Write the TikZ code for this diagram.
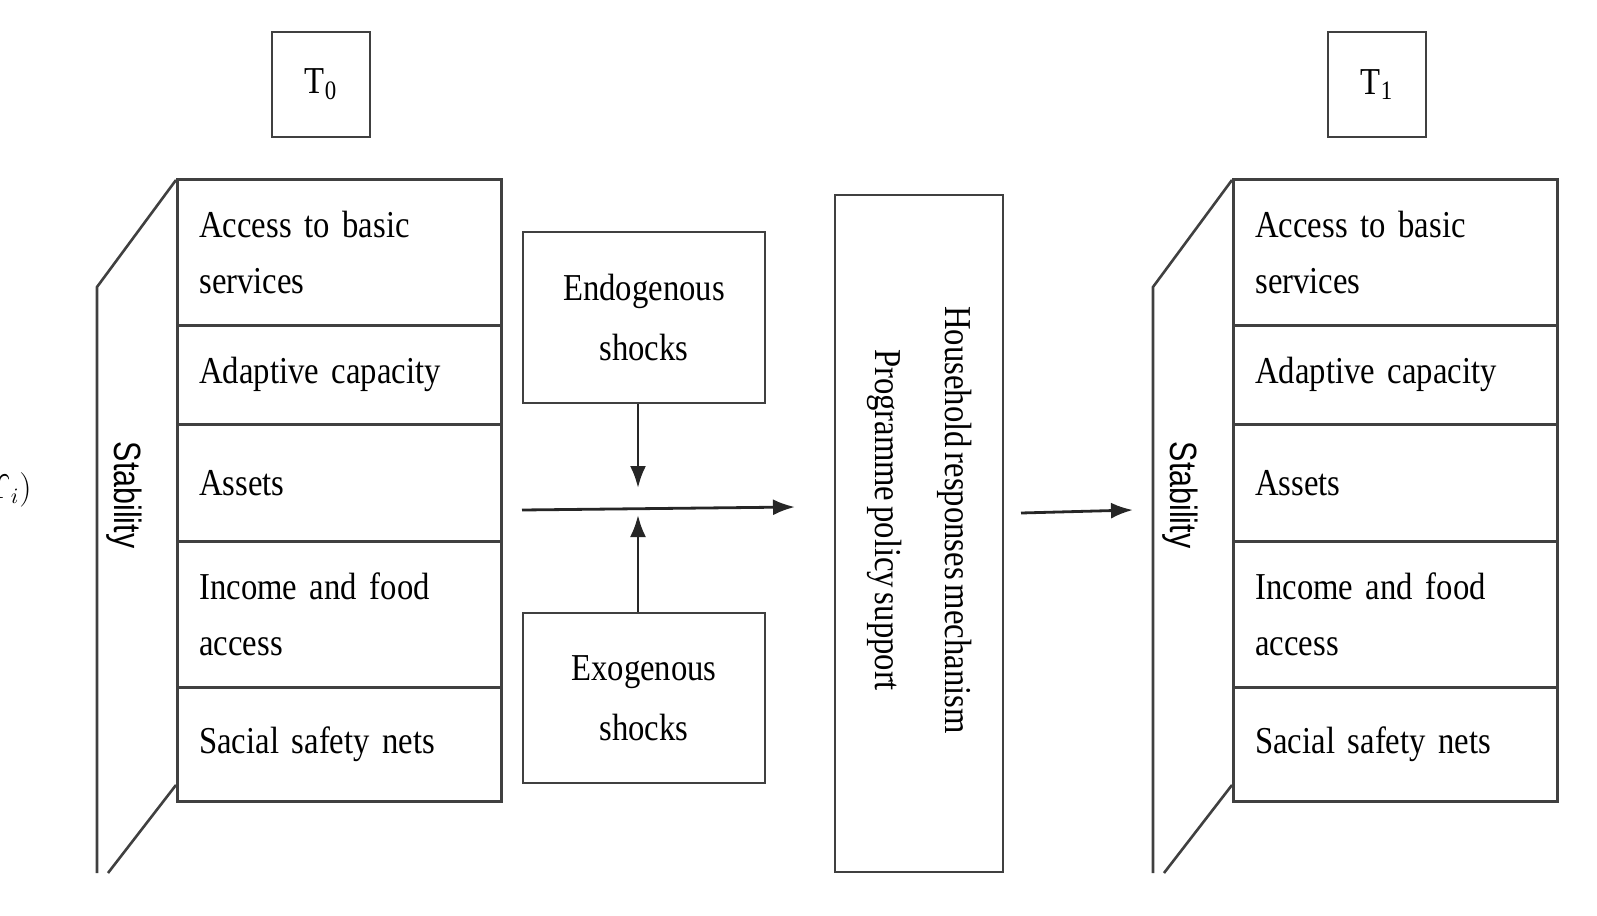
\documentclass[tikz,border=0pt]{standalone}
\usepackage{fontspec}
\setmainfont{Liberation Serif}[FakeStretch=0.86,WordSpace=0.6]
\newfontfamily\stabfont{Liberation Sans}[FakeStretch=0.8]
\usetikzlibrary{arrows.meta}
\begin{document}
\begin{tikzpicture}[x=0.5pt,y=-0.5pt,line width=1.3pt,draw=black!75,
  cell/.style={draw,minimum width=162pt,anchor=north west,inner sep=0pt,text width=140pt,align=left,font=\fontsize{19}{28}\selectfont},
  bx/.style={draw,inner sep=0pt,align=center,font=\fontsize{19}{30}\selectfont},
  arr/.style={-{Latex[length=11pt,width=8pt]},line width=1.4pt,draw=black!85}]
\useasboundingbox (0,0) rectangle (1597,916);
\node[anchor=west,font=\fontsize{16}{16}\selectfont] (frag) at (-22,490) {$\Upsilon_i)$};
\foreach \ox/\tn/\nm in {0/0/L,1056/1/R}{
  \begin{scope}[xshift=\ox*0.5pt]
  \node[bx,minimum width=49pt,minimum height=52.5pt] (T\nm) at (321,84.5) {T\textsubscript{\tn}};
  \draw (176,180) -- (97,287) -- (97,873);
  \draw (176,785) -- (108,873);
  \node[rotate=-90,font=\stabfont\fontsize{19}{19}\selectfont] (S\nm) at (124,495) {Stability};
  \node[cell,minimum height=73pt] (a\nm) at (176,178) {Access to basic services};
  \node[cell,minimum height=49.5pt] (b\nm) at (176,324) {Adaptive capacity};
  \node[cell,minimum height=58.5pt] (c\nm) at (176,423) {Assets};
  \node[cell,minimum height=73pt] (d\nm) at (176,540) {Income and food access};
  \node[cell,minimum height=57pt] (e\nm) at (176,686) {Sacial safety nets};
  \end{scope}}
\node[bx,minimum width=121pt,minimum height=85.5pt] (endo) at (644,317.5) {Endogenous\\shocks};
\node[bx,minimum width=121pt,minimum height=85pt] (exo) at (644,698) {Exogenous\\shocks};
\node[draw,minimum width=84pt,minimum height=338.5pt,inner sep=0pt] (hh) at (919,533.5) {};
\node[rotate=-90,align=center,font=\fontsize{19}{35}\selectfont] (hht) at (920,520) {Household responses mechanism\\Programme policy support};
\coordinate (m1) at (638,488);
\coordinate (m2) at (638,515);
\coordinate (h1) at (522,510);
\coordinate (h2) at (795,507);
\coordinate (r1) at (1021,513);
\coordinate (r2) at (1133,510);
\draw[arr] (endo.south -| m1) -- (m1);
\draw[arr] (exo.north -| m2) -- (m2);
\draw[arr] (h1) -- (h2);
\draw[arr] (r1) -- (r2);
\end{tikzpicture}
\end{document}
